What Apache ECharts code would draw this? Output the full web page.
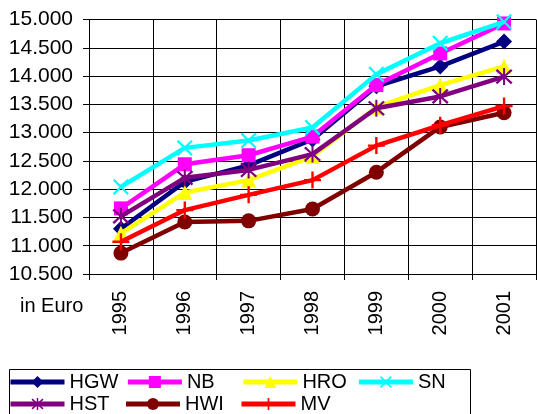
<!DOCTYPE html>
<html>
<head>
<meta charset="utf-8">
<script src="https://cdn.jsdelivr.net/npm/echarts@6/dist/echarts.min.js"></script>
<style>
html,body{margin:0;padding:0;background:#fff;}
#c{width:537px;height:414px;}
</style>
</head>
<body>
<div id="c"></div>
<script>
var years = ['1995','1996','1997','1998','1999','2000','2001'];
var seriesNames = ['HGW','NB','HRO','SN','HST','HWI','MV'];
var legendRow1 = ['HGW','NB','HRO','SN'];
var legendRow2 = ['HST','HWI','MV'];
var HGW = [11300, 12130, 12420, 12880, 13820, 14170, 14610];
var NB  = [11660, 12440, 12600, 12930, 13840, 14400, 14930];
var HRO = [11220, 11940, 12160, 12580, 13450, 13840, 14170];
var SN  = [12040, 12730, 12860, 13090, 14030, 14580, 14960];
var HST = [11520, 12200, 12340, 12620, 13430, 13640, 13990];
var HWI = [10870, 11420, 11440, 11650, 12300, 13100, 13350];
var MV  = [11070, 11630, 11900, 12160, 12770, 13130, 13470];
var yTicks = {min: 10500, max: 15000, interval: 500};

var colors = {HGW:'#000080', NB:'#FF00FF', HRO:'#FFFF00', SN:'#00FFFF', HST:'#800080', HWI:'#800000', MV:'#FF0000'};
var xPath = 'path://M0,1 L1,0 L5,4 L9,0 L10,1 L6,5 L10,9 L9,10 L5,6 L1,10 L0,9 L4,5 Z';
var astPath = 'path://M0,1.5 L1,0.5 L5,4.3 L9,0.5 L10,1.5 L6,5 L10,8.5 L9,9.5 L5,5.7 L1,9.5 L0,8.5 L4,5 Z M4.4,0 L5.6,0 L5.6,10 L4.4,10 Z';
var plusPath = 'path://M4.3,0 L5.7,0 L5.7,4.3 L10,4.3 L10,5.7 L5.7,5.7 L5.7,10 L4.3,10 L4.3,5.7 L0,5.7 L0,4.3 L4.3,4.3 Z';
var symbols = {HGW:['diamond',16], NB:['rect',14], HRO:['triangle',15], SN:[xPath,16], HST:[astPath,17], HWI:['circle',15], MV:[plusPath,17]};
var dataMap = {HGW:HGW, NB:NB, HRO:HRO, SN:SN, HST:HST, HWI:HWI, MV:MV};

var font = 'Liberation Sans, Arial, sans-serif';
var chart = echarts.init(document.getElementById('c'), null, {renderer:'canvas'});
var series = seriesNames.map(function(n, i){
  return {
    name: n, type: 'line', data: dataMap[n],
    symbol: symbols[n][0], symbolSize: symbols[n][1], showAllSymbol: true,
    lineStyle: {color: colors[n], width: 4.5},
    itemStyle: {color: colors[n], borderWidth: 0},
    z: 2 + i, animation: false
  };
});

function makeLegend(data, top){
  return {
    left: 8, top: top, orient: 'horizontal', padding: 0,
    itemWidth: 54, itemHeight: 15, itemGap: 7,
    lineStyle: {width: 5},
    textStyle: {fontSize: 20, lineHeight: 16, color: '#000', fontFamily: font, width: 47},
    data: data
  };
}

chart.setOption({
  animation: false,
  grid: {left: 89, right: 1, top: 19.5, bottom: 140, containLabel: false},
  xAxis: {
    type: 'category', data: years, boundaryGap: true,
    axisLine: {lineStyle: {color: '#000', width: 1}},
    axisTick: {show: true, length: 6, lineStyle: {color: '#000'}},
    axisLabel: {rotate: 90, margin: 17, color: '#000', fontSize: 20, fontFamily: font},
    splitLine: {show: true, lineStyle: {color: '#000', width: 1}}
  },
  yAxis: {
    type: 'value', min: yTicks.min, max: yTicks.max, interval: yTicks.interval,
    axisLine: {show: true, lineStyle: {color: '#000', width: 1}},
    axisTick: {show: true, length: 6, lineStyle: {color: '#000'}},
    axisLabel: {margin: 16, color: '#000', fontSize: 21, fontFamily: font,
      formatter: function(v){ return (v/1000).toFixed(3); }},
    splitLine: {show: true, lineStyle: {color: '#000', width: 1}}
  },
  legend: [makeLegend(legendRow1, 372), makeLegend(legendRow2, 394)],
  graphic: [{
    type: 'text', left: 20, top: 296,
    style: {text: 'in Euro', fontSize: 20, fontFamily: font, fill: '#000'}
  }, {
    type: 'rect', left: 7, top: 367, z: -1,
    shape: {x: 0, y: 0, width: 461, height: 60},
    style: {fill: 'none', stroke: '#000', lineWidth: 1}
  }],
  series: series
});
</script>
</body>
</html>
